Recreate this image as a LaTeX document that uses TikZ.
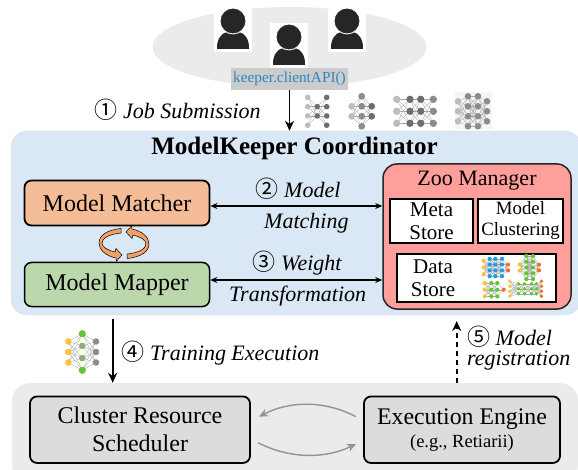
\documentclass[tikz,border=0pt]{standalone}
\usepackage{fontspec}
\setmainfont{Liberation Serif}
\newfontfamily\circfont{Noto Sans CJK SC}
\usetikzlibrary{arrows.meta}
\definecolor{panelblue}{HTML}{DAE7F5}
\definecolor{panelgrey}{HTML}{EBEBEB}
\definecolor{boxgrey}{HTML}{DCDCDC}
\definecolor{matchcol}{HTML}{F5BC98}
\definecolor{mapcol}{HTML}{BBD7AC}
\definecolor{zoocol}{HTML}{FF9F9C}
\definecolor{apiblue}{HTML}{2E86C1}
\definecolor{swapcol}{HTML}{F2A066}
\definecolor{usercol}{HTML}{262626}
\definecolor{netyellow}{HTML}{F9C23C}
\definecolor{netgreen}{HTML}{62C62E}
\definecolor{netolive}{HTML}{8FB070}
\definecolor{netblue}{HTML}{1E9BE8}
\definecolor{netorange}{HTML}{F0702A}
\definecolor{netg}{HTML}{8C8C8C}
\definecolor{netlg}{HTML}{BDBDBD}
\definecolor{netdk}{HTML}{6E6E6E}
\tikzset{
  fsize/.style={font=\fontsize{#1}{28}\selectfont},
  procbox/.style={draw=black,line width=1.8pt,rounded corners=7pt,inner sep=0pt,align=center,fsize=24},
  storebox/.style={draw=black,fill=white,line width=1.2pt,inner sep=0pt,align=center},
  steplabel/.style={inner sep=0pt,anchor=base west,font=\fontsize{22}{20}\selectfont\itshape},
  flowarrow/.style={-{Stealth[length=10pt,width=9pt]},line width=1.7pt},
  biarrow/.style={{Stealth[length=7pt,width=6pt]}-{Stealth[length=7pt,width=6pt]},line width=1.2pt},
  cyclearrow/.style={-{Stealth[length=9pt,width=8pt]},draw=gray!85,line width=1.4pt}
}
\newcommand{\stepnum}[1]{\smash{\fontsize{23}{24}\selectfont\circfont\upshape #1}}
% one user: x, y of the head
\newcommand{\userIcon}[2]{
  \fill[white] (#1-19,#2-14) rectangle (#1+19,#2+31);
  \fill[usercol] (#1-16,#2+28) .. controls (#1-16.5,#2+19) and (#1-12,#2+12) .. (#1-6,#2+11)
    -- (#1+6,#2+11)
    .. controls (#1+12,#2+12) and (#1+16.5,#2+19) .. (#1+16,#2+28) -- cycle;
  \filldraw[fill=usercol,draw=white,line width=0.9pt] (#1,#2) circle (13);
}
% small network: x, y of the centre, dot radius, list of layers x/count/colour/gap
\newcommand{\netIcon}[4]{
  \foreach \lx/\ln/\lc/\lg [remember=\lx as \px (initially 0),remember=\ln as \pn (initially 0),remember=\lg as \pg (initially 0)] in {#4}{
    \ifnum\pn>0
      \foreach \i in {1,...,\pn}\foreach \j in {1,...,\ln}
        \draw[gray!70,line width=0.3pt] (#1+\px,{#2+(\i-(\pn+1)/2)*\pg}) -- (#1+\lx,{#2+(\j-(\ln+1)/2)*\lg});
    \fi
  }
  \foreach \lx/\ln/\lc/\lg in {#4}
    \foreach \i in {1,...,\ln}
      \fill[\lc] (#1+\lx,{#2+(\i-(\ln+1)/2)*\lg}) circle (#3);
}
\begin{document}
\begin{tikzpicture}[x=1pt,y=-1pt]
  \useasboundingbox (0,0) rectangle (578,470);
  % users
  \fill[panelgrey] (289.5,47) ellipse (137 and 40);
  \userIcon{233}{21}
  \userIcon{347}{21}
  \userIcon{289}{37}
  \node[fill=gray!40,text=apiblue,inner sep=0pt,minimum width=117pt,minimum height=22pt,fsize=15.3] (api) at (289.5,79) {keeper.clientAPI()};
  % coordinator
  \node[draw=gray!25,fill=panelblue,rounded corners=16pt,minimum width=570pt,minimum height=184pt,inner sep=0pt] (coordinator) at (296,223) {};
  \node[inner sep=0pt,font=\fontsize{25.1}{28}\selectfont\bfseries] (coordtitle) at (294.5,148) {ModelKeeper Coordinator};
  \node[procbox,fill=matchcol,minimum width=185pt,minimum height=45pt] (matcher) at (117,203) {Model Matcher};
  \node[procbox,fill=mapcol,minimum width=185pt,minimum height=44pt,line width=1.5pt] (mapper) at (117,284.5) {Model Mapper};
  \node[draw=black!85,fill=zoocol,line width=1.5pt,rounded corners=14pt,minimum width=188pt,minimum height=145pt,inner sep=0pt] (zoo) at (477,236.5) {};
  \node[inner sep=0pt,fsize=22] (zootitle) at (477,181) {Zoo Manager};
  \node[storebox,minimum width=83pt,minimum height=44pt,font=\fontsize{21}{22.5}\selectfont] (meta) at (431.5,221) {Meta\\Store};
  \node[storebox,minimum width=85pt,minimum height=44pt,font=\fontsize{18.8}{21}\selectfont] (clustering) at (520.5,221) {Model\\Clustering};
  \node[storebox,minimum width=159pt,minimum height=48pt] (datastore) at (476.5,278) {};
  \node[inner sep=0pt,align=center,font=\fontsize{21}{23}\selectfont] (datatext) at (433,278) {Data\\Store};
  % swap arrows between matcher and mapper
  \def\swapshape{(121,228.5) .. controls (106,230) and (99,236) .. (99,243) .. controls (99,250) and (106,256) .. (116,258)
    -- (116.5,261) -- (122,255) -- (116,248.5) -- (115,252) .. controls (107,250) and (102,247) .. (102,243)
    .. controls (102,238) and (110,234) .. (121,233) -- cycle}
  \draw[fill=swapcol,line width=0.5pt] \swapshape;
  \begin{scope}[rotate around={180:(124,243.5)}]
    \draw[fill=swapcol,line width=0.5pt] \swapshape;
  \end{scope}
  % bottom panel
  \node[fill=panelgrey,rounded corners=18pt,minimum width=566pt,minimum height=100pt,inner sep=0pt] (runtime) at (295,433) {};
  \node[procbox,fill=boxgrey,minimum width=220pt,minimum height=66.5pt,font=\fontsize{24}{28}\selectfont] (scheduler) at (140,429.7) {Cluster Resource\\Scheduler};
  \node[procbox,fill=boxgrey,minimum width=196pt,minimum height=66.5pt] (engine) at (462,429.7) {};
  \node[inner sep=0pt,font=\fontsize{23.8}{26}\selectfont] (enginetext) at (462,419) {Execution Engine};
  \node[inner sep=0pt,font=\fontsize{18.5}{20}\selectfont] (enginesub) at (462,443.5) {(e.g., Retiarii)};
  % connectors
  \draw[flowarrow] (api.south) -- (api.south |- coordinator.north);
  \draw[biarrow] (matcher.east) ++(0,3) coordinate (matchport) -- (matchport -| zoo.west);
  \draw[biarrow] (mapper.east) ++(0,-4.5) coordinate (mapport) -- (mapport -| zoo.west);
  \coordinate (trainfrom) at (112.7,319);
  \coordinate (regto) at (456.7,321);
  \draw[flowarrow] (trainfrom) -- (trainfrom |- runtime.north);
  \draw[flowarrow,dash pattern=on 5pt off 4pt] (regto |- runtime.north) -- (regto);
  \coordinate (engineup) at (356,416.7);
  \coordinate (schedup) at (259,416.7);
  \coordinate (schedlow) at (258,442.7);
  \coordinate (enginelow) at (356,444);
  \draw[cyclearrow] (engineup) .. controls (325,400.5) and (290,400.5) .. (schedup);
  \draw[cyclearrow] (schedlow) .. controls (290,459) and (325,459) .. (enginelow);
  % labels
  \node[steplabel] (l1) at (94.5,119) {\stepnum{①} Job Submission};
  \node[steplabel] (l2a) at (255.5,197.7) {\stepnum{②} Model};
  \node[steplabel] (l2b) at (264,228.3) {Matching};
  \node[steplabel] (l3a) at (252.5,270.7) {\stepnum{③} Weight};
  \node[steplabel] (l3b) at (229,301.7) {Transformation};
  \node[steplabel] (l4) at (121.5,360) {\stepnum{④} Training Execution};
  \node[steplabel,anchor=west,align=left] (l5) at (467,350.4) {\stepnum{⑤} Model\\registration};
  % networks
  \netIcon{317.2}{111.3}{2.8}{-9.5/4/netlg/9.3,0/2/netdk/9.3,9.5/4/netdk/9.3}
  \netIcon{361.7}{111.3}{3.4}{-10/2/netlg/10,0/4/netg/10,10/2/netdk/10}
  \netIcon{415}{111.3}{3.7}{-18.3/3/netlg/12,-5/3/netdk/12,5.7/3/netdk/12,18.3/3/netg/12}
  \fill[gray!8] (455,92) rectangle (492,129);
  \netIcon{472.5}{111.3}{3.3}{-14.5/3/netlg/10,-4.5/4/netg/10,5.5/4/netg/10,14.5/3/netg/10}
  \netIcon{82.3}{352}{3.3}{-14/3/netyellow/10.5,0/4/netolive/12.2,13.7/3/netg/10.5}
  \fill[netgreen] (82.3,333.7) circle (3.5) (82.3,370.3) circle (3.5);
  \netIcon{496}{267.5}{2.1}{-12.3/3/netyellow/6.7,-6.3/4/netblue/5.8,-0.7/4/netblue/5.8,6/4/netblue/5.8,12/2/netorange/5.7}
  \netIcon{529.5}{267.5}{2.1}{-9.8/2/netyellow/6,-3.2/5/netgreen/5.8,3.5/5/netgreen/5.8,9.5/2/netorange/5.7}
  \netIcon{494.5}{289.7}{2.1}{-9.8/3/netyellow/6.7,-3.2/3/netgreen/6.7,2.8/3/netgreen/6.7,9.2/1/netorange/1}
  \netIcon{525.5}{288.8}{1.9}{-15.8/4/netyellow/5,-7/3/netgreen/5,-1/3/netgreen/5,6/3/netgreen/5,11/3/netgreen/5,16/4/netorange/5}
\end{tikzpicture}
\end{document}
